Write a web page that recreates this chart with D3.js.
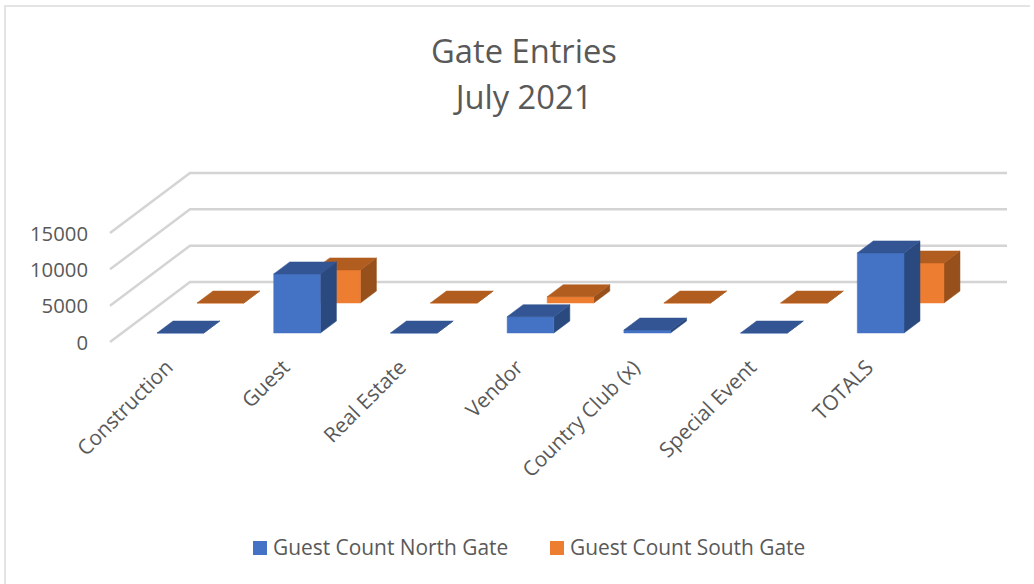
<!DOCTYPE html>
<html>
<head>
<meta charset="utf-8">
<title>Gate Entries</title>
<script src="https://cdn.jsdelivr.net/npm/d3@7"></script>
<style>
  html, body { margin: 0; padding: 0; background: #fff; }
  svg { display: block; }
  text { font-family: "Open Sans", sans-serif; fill: #595959; }
</style>
</head>
<body>
<div id="chart"></div>
<script>
// Data
const categories = ['Construction', 'Guest', 'Real Estate', 'Vendor', 'Country Club (x)', 'Special Event', 'TOTALS'];
const seriesNames = ['Guest Count North Gate', 'Guest Count South Gate'];
const northValues = [0, 8130, 0, 2250, 410, 0, 11020];
const southValues = [0, 4550, 0, 870, 0, 0, 5510];
const yTicks = [0, 5000, 10000, 15000];
const titleLines = ['Gate Entries', 'July 2021'];

const width = 1034, height = 584;

// Shear of the 3D box: how far the back wall sits from the front plane
const wallDx = 80, wallDy = -60;

const colors = [
    { front: '#4472c4', top: '#335593', side: '#2a4a7f' },
    { front: '#ed7d31', top: '#b15d20', side: '#97501b' }
];

const svg = d3.select('#chart').append('svg')
    .attr('width', width)
    .attr('height', height);

// Chart border (only top and left show in the picture)
svg.append('path')
    .attr('d', `M5,${height}V6H${width - 4}`)
    .attr('fill', 'none')
    .attr('stroke', '#e4e4e4')
    .attr('stroke-width', 2);

// Title
svg.append('g').selectAll('text')
    .data(titleLines)
    .enter().append('text')
    .attr('x', 524)
    .attr('y', (d, i) => 63 + i * 46)
    .attr('text-anchor', 'middle')
    .style('font-size', '32.7px')
    .text(d => d);

// Scales
const xScale = d3.scaleBand()
    .domain(categories)
    .range([110, 927])
    .paddingInner(0.6)
    .paddingOuter(0.3);

const yScale = d3.scaleLinear()
    .domain([0, 15000])
    .range([342, 233]);

// Depth position of each series inside the box, 0 = front, 1 = back wall
const depthScale = d3.scaleBand()
    .domain(seriesNames)
    .range([0, 1])
    .paddingInner(0.6)
    .paddingOuter(0.3);

const project = (x, y, d) => [x + d * wallDx, y + d * wallDy];
const points = pts => pts.map(p => p.join(',')).join(' ');

// Gridlines run along the side wall and then the back wall
const xLeft = xScale.range()[0], xRight = xScale.range()[1];
svg.append('g').selectAll('polyline')
    .data(yTicks)
    .enter().append('polyline')
    .attr('fill', 'none')
    .attr('stroke', '#d4d4d4')
    .attr('stroke-width', 2.5)
    .attr('points', d => points([
        project(xLeft, yScale(d), 0),
        project(xLeft, yScale(d), 1),
        project(xRight, yScale(d), 1)
    ]));

// Y axis
const yAxis = svg.append('g')
    .attr('transform', 'translate(88,0)')
    .call(d3.axisLeft(yScale).tickValues(yTicks).tickSize(0).tickPadding(0).tickFormat(d3.format('d')));
yAxis.select('.domain').remove();
yAxis.selectAll('text')
    .attr('dy', '0.36em')
    .style('font-size', '20.3px');

// X axis, labels turned 45 degrees
const xAxis = svg.append('g')
    .attr('transform', 'translate(-3,360)')
    .call(d3.axisBottom(xScale).tickSize(0).tickPadding(0));
xAxis.select('.domain').remove();
xAxis.selectAll('text')
    .attr('text-anchor', 'end')
    .attr('y', 0)
    .attr('dy', '0.6em')
    .attr('transform', 'rotate(-45)')
    .style('font-size', '20.8px');

// Bars, back series first so the front series covers it
const seriesValues = [northValues, southValues];
[1, 0].forEach(s => {
    const name = seriesNames[s];
    const d0 = depthScale(name), d1 = d0 + depthScale.bandwidth();
    const c = colors[s];
    const g = svg.append('g').attr('class', 'series');

    categories.forEach((cat, i) => {
        const x0 = xScale(cat), x1 = x0 + xScale.bandwidth();
        const yTop = yScale(seriesValues[s][i]), yBase = yScale(0);

        const faces = [
            { fill: c.side, pts: [project(x1, yTop, d0), project(x1, yTop, d1), project(x1, yBase, d1), project(x1, yBase, d0)] },
            { fill: c.front, pts: [project(x0, yTop, d0), project(x1, yTop, d0), project(x1, yBase, d0), project(x0, yBase, d0)] },
            { fill: c.top, pts: [project(x0, yTop, d0), project(x1, yTop, d0), project(x1, yTop, d1), project(x0, yTop, d1)] }
        ];
        g.selectAll(null)
            .data(faces)
            .enter().append('polygon')
            .attr('points', d => points(d.pts))
            .attr('fill', d => d.fill)
            .attr('stroke', d => d.fill)
            .attr('stroke-width', 0.5);
    });
});

// Legend
const legendX = [253, 550];
const legend = svg.append('g').selectAll('g')
    .data(seriesNames)
    .enter().append('g')
    .attr('transform', (d, i) => `translate(${legendX[i]},541)`);
legend.append('rect')
    .attr('width', 14)
    .attr('height', 14)
    .attr('fill', (d, i) => colors[i].front);
legend.append('text')
    .attr('x', 20)
    .attr('y', 14)
    .style('font-size', '20.9px')
    .text(d => d);
</script>
</body>
</html>
